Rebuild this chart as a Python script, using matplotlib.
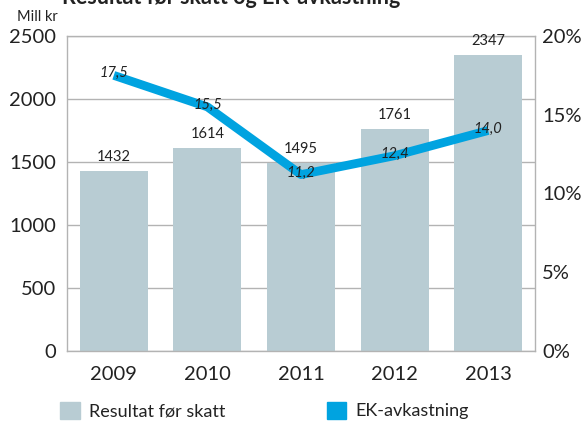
import matplotlib
matplotlib.use("Agg")
import matplotlib.pyplot as plt
from matplotlib.patches import Patch

years = ["2009", "2010", "2011", "2012", "2013"]
resultat = [1432, 1614, 1495, 1761, 2347]
ek = [17.5, 15.5, 11.2, 12.4, 14.0]
left_ticks = [0, 500, 1000, 1500, 2000, 2500]
right_ticks = [0, 5, 10, 15, 20]

bar_color = "#b8ccd3"
line_color = "#00a3e0"
text_color = "#222222"
grid_color = "#b3b3b3"

plt.rcParams['font.family'] = ['Lato', 'DejaVu Sans']

fig = plt.figure(figsize=(5.86, 4.21), dpi=100)
ax = fig.add_axes([67/586, 1-351/421, (535-67)/586, (351-36)/421])
x = list(range(len(years)))
ax.bar(x, resultat, width=0.727, color=bar_color, zorder=2)
ax.set_xlim(-0.5, 4.5)
ax.set_ylim(0, 2500)
ax.set_yticks(left_ticks)
ax.set_xticks(x)
ax.set_xticklabels(years)
ax.yaxis.grid(True, color=grid_color, linewidth=1, zorder=0)
ax.set_axisbelow(True)
ax.tick_params(length=0, labelsize=14.5, labelcolor=text_color, pad=8)
ax.tick_params(axis='x', pad=11)
for s in ax.spines.values():
    s.set_color(grid_color)
    s.set_linewidth(1)

for xi, v in zip(x, resultat):
    ax.annotate(str(v), (xi, v), xytext=(0, 10), textcoords="offset points",
                ha="center", va="center", fontsize=10.5, color=text_color)

ax2 = ax.twinx()
ax2.set_ylim(0, 20)
ax2.set_yticks(right_ticks)
ax2.set_yticklabels([f"{t}%" for t in right_ticks])
ax2.tick_params(length=0, labelsize=14.5, labelcolor=text_color, pad=5)
for s in ax2.spines.values():
    s.set_visible(False)
ax2.plot(x, ek, color=line_color, linewidth=6.3, solid_capstyle="butt", zorder=3)
for xi, v in zip(x, ek):
    ax2.annotate(f"{v:.1f}".replace(".", ","), (xi, v), xytext=(0, 1.5),
                 textcoords="offset points", ha="center", va="center",
                 fontsize=10.5, style="italic", color=text_color, zorder=4)

fig.text(58/586, 1-17/421, "Mill kr", ha="right", va="center", fontsize=10.5, color=text_color)
fig.text(0.395, 1-4/421, "Resultat før skatt og EK-avkastning", ha="center",
         va="baseline", fontsize=15.5, fontweight="bold", color=text_color)

handles = [Patch(color=bar_color, label="Resultat før skatt"),
           Patch(color=line_color, label="EK-avkastning")]
fig.legend(handles=handles, loc="lower left", bbox_to_anchor=(44/586, -0.035),
           ncol=2, frameon=False, fontsize=13, handlelength=1.1, handleheight=1.1,
           handletextpad=0.5, columnspacing=5.6, labelcolor=text_color)

fig.savefig("out.png", dpi=100)
